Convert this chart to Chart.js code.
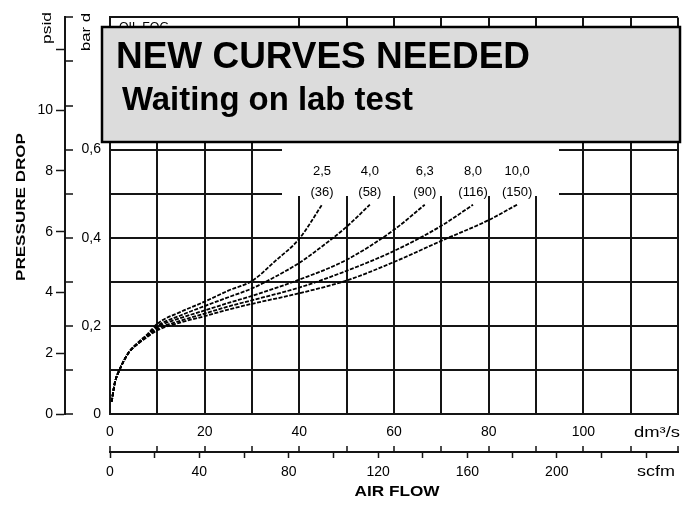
<!DOCTYPE html>
<html><head><meta charset="utf-8">
<script src="https://cdn.jsdelivr.net/npm/chart.js@4.4.1/dist/chart.umd.min.js"></script>
<style>html,body{margin:0;padding:0;background:#fff}#wrap{width:690px;height:509px}</style>
</head><body><div id="wrap"><canvas id="c" width="690" height="509"></canvas></div>
<script>
// ---- data (air flow in dm3/s, pressure drop in bar d) ----
const ratingBar = ['2,5', '4,0', '6,3', '8,0', '10,0'];
const ratingPsi = ['(36)', '(58)', '(90)', '(116)', '(150)'];

const flow25 = [0.35, 1, 2, 4, 6, 8, 10, 15, 20, 25, 30, 35, 40, 44.8];
const drop25 = [0.028, 0.07, 0.10, 0.14, 0.163, 0.182, 0.205, 0.232, 0.255, 0.28, 0.302, 0.348, 0.398, 0.475];

const flow40 = [0.35, 1, 2, 4, 6, 8, 10, 15, 20, 25, 30, 35, 40, 45, 50, 54.9];
const drop40 = [0.028, 0.07, 0.10, 0.14, 0.162, 0.18, 0.2, 0.224, 0.245, 0.265, 0.285, 0.312, 0.343, 0.382, 0.425, 0.475];

const flow63 = [0.35, 1, 2, 4, 6, 8, 10, 15, 20, 25, 30, 40, 50, 60, 66.5];
const drop63 = [0.028, 0.07, 0.10, 0.14, 0.161, 0.178, 0.197, 0.218, 0.235, 0.252, 0.268, 0.305, 0.35, 0.418, 0.475];

const flow80 = [0.35, 1, 2, 4, 6, 8, 10, 15, 20, 25, 30, 40, 50, 60, 70, 76.7];
const drop80 = [0.028, 0.07, 0.10, 0.14, 0.16, 0.177, 0.193, 0.212, 0.228, 0.244, 0.258, 0.287, 0.325, 0.37, 0.427, 0.475];

const flow100 = [0.35, 1, 2, 4, 6, 8, 10, 15, 20, 25, 30, 40, 50, 60, 70, 80, 86];
const drop100 = [0.028, 0.07, 0.10, 0.14, 0.16, 0.176, 0.19, 0.208, 0.222, 0.237, 0.25, 0.274, 0.303, 0.345, 0.393, 0.44, 0.475];

const flowTicks = [0, 20, 40, 60, 80, 100];
const scfmTicks = [0, 40, 80, 120, 160, 200];
const barTicks = [0, 0.2, 0.4, 0.6];
const psidTicks = [0, 2, 4, 6, 8, 10];

const DM3S_PER_SCFM = 0.47195;
const BAR_PER_PSI = 0.0689476;
const X_MAX = 120, Y_MAX = 0.9;

const pts = (xs, ys) => xs.map((v, i) => ({x: v, y: ys[i]}));
const curves = [[flow25, drop25], [flow40, drop40], [flow63, drop63], [flow80, drop80], [flow100, drop100]];

const FONT = '"Liberation Sans", Arial, sans-serif';
Chart.defaults.font.family = FONT;
Chart.defaults.color = '#000';

function fitText(ctx, text, cx, cy, width, font, rot) {
  ctx.save();
  ctx.font = font;
  ctx.textAlign = 'center';
  ctx.textBaseline = 'middle';
  const w = ctx.measureText(text).width;
  ctx.translate(cx, cy);
  if (rot) ctx.rotate(rot);
  ctx.scale(width / w, 1);
  ctx.fillText(text, 0, 0);
  ctx.restore();
}
function fitLeft(ctx, text, x, baseY, width, font) {
  ctx.save();
  ctx.font = font;
  ctx.textAlign = 'left';
  ctx.textBaseline = 'alphabetic';
  const w = ctx.measureText(text).width;
  ctx.translate(x, baseY);
  ctx.scale(width / w, 1);
  ctx.fillText(text, 0, 0);
  ctx.restore();
}

const overlay = {
  id: 'overlay',
  beforeDatasetsDraw(chart) {
    const ctx = chart.ctx;
    ctx.save();
    ctx.fillStyle = '#fff';
    ctx.fillRect(282, 141, 277, 55);
    ctx.fillRect(112, 18, 182, 12);
    ctx.fillStyle = '#000';
    fitLeft(ctx, 'OIL FOG', 119, 31, 50, '13px ' + FONT);
    ctx.font = '13px ' + FONT;
    ctx.textAlign = 'center';
    ctx.textBaseline = 'middle';
    chart.data.datasets.forEach((ds, i) => {
      const meta = chart.getDatasetMeta(i);
      const last = meta.data[meta.data.length - 1];
      ctx.fillText(ratingBar[i], last.x, last.y - 33);
      ctx.fillText(ratingPsi[i], last.x, last.y - 12);
    });
    ctx.restore();
  },
  afterDraw(chart) {
    const ctx = chart.ctx;
    const {x, x2, y, yPsi} = chart.scales;
    ctx.save();
    ctx.strokeStyle = '#111';
    ctx.lineWidth = 1.5;
    x.ticks.forEach(t => {
      const px = Math.round(x.getPixelForValue(t.value));
      ctx.beginPath(); ctx.moveTo(px, x2.top); ctx.lineTo(px, x2.top - 6); ctx.stroke();
    });
    y.ticks.forEach(t => {
      const py = Math.round(y.getPixelForValue(t.value));
      ctx.beginPath(); ctx.moveTo(yPsi.right, py); ctx.lineTo(yPsi.right + 8, py); ctx.stroke();
    });
    ctx.fillStyle = '#000';
    fitText(ctx, 'psid', 47, 28, 32, '13px ' + FONT, -Math.PI / 2);
    fitText(ctx, 'bar d', 86, 32, 38, '13px ' + FONT, -Math.PI / 2);
    fitText(ctx, 'PRESSURE DROP', 21, 207, 148, 'bold 13px ' + FONT, -Math.PI / 2);
    fitText(ctx, 'AIR FLOW', 397, 492, 85, 'bold 14px ' + FONT, 0);
    fitText(ctx, 'dm³/s', 657, 433, 46, '14px ' + FONT, 0);
    fitText(ctx, 'scfm', 656, 472, 38, '14px ' + FONT, 0);
    ctx.fillStyle = '#dcdcdc';
    ctx.fillRect(102, 27, 578, 115);
    ctx.strokeStyle = '#000';
    ctx.lineWidth = 2.5;
    ctx.strokeRect(102, 27, 578, 115);
    ctx.fillStyle = '#000';
    fitLeft(ctx, 'NEW CURVES NEEDED', 116, 68, 414, 'bold 37px ' + FONT);
    fitLeft(ctx, 'Waiting on lab test', 122, 110, 291, 'bold 34px ' + FONT);
    ctx.restore();
  }
};

const gridCol = '#151515';
new Chart(document.getElementById('c'), {
  type: 'scatter',
  data: {
    datasets: curves.map((c, i) => ({
      label: ratingBar[i],
      data: pts(c[0], c[1]),
      showLine: true,
      borderColor: '#000',
      borderWidth: 1.8,
      borderDash: [4, 1.5],
      pointRadius: 0,
      cubicInterpolationMode: 'monotone',
      xAxisID: 'x', yAxisID: 'y'
    }))
  },
  options: {
    responsive: false,
    animation: false,
    devicePixelRatio: 1,
    layout: {padding: {left: 0, right: 12, top: 12, bottom: 0}},
    plugins: {legend: {display: false}, tooltip: {enabled: false}},
    scales: {
      x: {
        type: 'linear', position: 'bottom', weight: 0, min: 0, max: X_MAX,
        afterFit: s => { s.height = 38; },
        ticks: {stepSize: 10, autoSkip: false, maxRotation: 0, padding: 10, font: {size: 14},
          callback: v => flowTicks.includes(v) ? String(v) : ''},
        grid: {color: gridCol, lineWidth: 2, drawTicks: false},
        border: {color: gridCol, width: 2}
      },
      x2: {
        type: 'linear', position: 'bottom', weight: 1, min: 0, max: X_MAX / DM3S_PER_SCFM,
        afterFit: s => { s.height = 57; },
        ticks: {stepSize: 20, includeBounds: false, autoSkip: false, maxRotation: 0, padding: 6, font: {size: 14},
          callback: v => scfmTicks.includes(v) ? String(v) : ''},
        grid: {drawOnChartArea: false, drawTicks: true, tickLength: 6, tickColor: gridCol, tickWidth: 1.5},
        border: {display: true, color: gridCol, width: 2}
      },
      y: {
        type: 'linear', position: 'left', weight: 0, min: 0, max: Y_MAX,
        afterFit: s => { s.width = 45; },
        ticks: {stepSize: 0.1, autoSkip: false, padding: 9, font: {size: 14},
          callback: v => { const r = Math.round(v * 10) / 10; return barTicks.includes(r) ? (r === 0 ? '0' : r.toFixed(1).replace('.', ',')) : ''; }},
        grid: {color: gridCol, lineWidth: 2, drawTicks: false},
        border: {color: gridCol, width: 2}
      },
      yPsi: {
        type: 'linear', position: 'left', weight: 1, min: 0, max: Y_MAX / BAR_PER_PSI,
        afterFit: s => { s.width = 65; },
        ticks: {stepSize: 2, includeBounds: false, autoSkip: false, padding: 3, font: {size: 14},
          callback: v => psidTicks.includes(v) ? String(v) : ''},
        grid: {drawOnChartArea: false, drawTicks: true, tickLength: 9, tickColor: gridCol, tickWidth: 1.5},
        border: {display: true, color: gridCol, width: 2}
      }
    }
  },
  plugins: [overlay]
});
</script>
</body></html>
